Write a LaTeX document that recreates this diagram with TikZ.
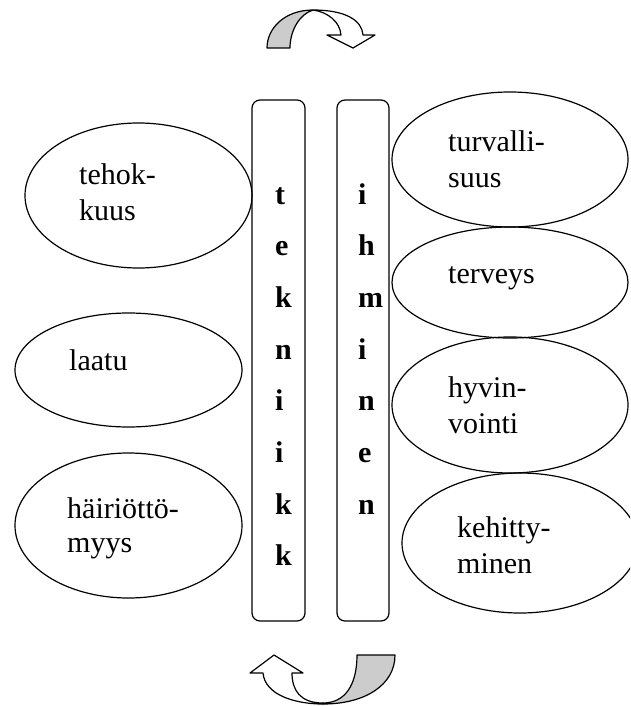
\documentclass[tikz,border=0pt]{standalone}
\usepackage{fontspec}
\setmainfont{Liberation Serif}
\usetikzlibrary{shapes.geometric}
\begin{document}
\begin{tikzpicture}[x=1pt,y=-1pt,
  oval/.style={draw,ellipse,line width=1.2pt,inner sep=0pt},
  lbl/.style={anchor=base west,inner sep=0pt,font=\fontsize{30}{36}\selectfont},
  bar/.style={draw,rounded corners=8pt,line width=1.2pt,inner sep=0pt},
  letter/.style={anchor=base west,inner sep=0pt,font=\fontsize{30}{36}\selectfont\bfseries},
  arr/.style={draw,line width=1.2pt,line join=round}]
\useasboundingbox (0,0) rectangle (630,706);
\clip (0,0) rectangle (630,706);

% vertical bars
\node[bar,minimum width=53pt,minimum height=521pt] (b1) at (278.5,360.5) {};
\node[bar,minimum width=52pt,minimum height=521pt] (b2) at (363,360.5) {};

% left ellipses
\node[oval,minimum width=227pt,minimum height=145pt] (e1) at (138.5,195.5) {};
\node[oval,minimum width=227pt,minimum height=114pt] (e2) at (128.5,370) {};
\node[oval,minimum width=227pt,minimum height=145pt] (e3) at (128.5,525.5) {};
% right ellipses
\node[oval,minimum width=236pt,minimum height=135pt] (e4) at (510,159.5) {};
\node[oval,minimum width=236pt,minimum height=111pt] (e5) at (510,282.5) {};
\node[oval,minimum width=236pt,minimum height=136pt] (e6) at (510,405) {};
\node[oval,minimum width=236pt,minimum height=140pt] (e7) at (520,543) {};

% ellipse labels
\node[lbl] (l1a) at (79,184) {tehok-};
\node[lbl] (l1b) at (79,220) {kuus};
\node[lbl] (l2) at (69,370) {laatu};
\node[lbl] (l3a) at (67,518) {häiriöttö-};
\node[lbl] (l3b) at (67,552) {myys};
\node[lbl] (l4a) at (448,151) {turvalli-};
\node[lbl] (l4b) at (448,187) {suus};
\node[lbl] (l5) at (448,283) {terveys};
\node[lbl] (l6a) at (448,397) {hyvin-};
\node[lbl] (l6b) at (448,433) {vointi};
\node[lbl] (l7a) at (457,537) {kehitty-};
\node[lbl] (l7b) at (457,573) {minen};

% vertical words
\foreach \c [count=\i] in {t,e,k,n,i,i,k,k}
  \node[letter] (t\i) at (275,{204+51.7*(\i-1)}) {\c};
\foreach \c [count=\i] in {i,h,m,i,n,e,n}
  \node[letter] (h\i) at (358,{204+51.7*(\i-1)}) {\c};

% top curved arrow
\draw[arr,fill=gray!40] (313,10) .. controls (285,10) and (267,28) .. (267,48)
  -- (290,48) .. controls (290,30) and (300,14) .. (313,10) -- cycle;
\draw[arr,fill=white] (313,10) .. controls (345,10) and (362,20) .. (363,35)
  -- (375,35) -- (353,48) -- (327,35) -- (341,35)
  .. controls (340,22) and (328,12) .. (313,10) -- cycle;

% bottom curved arrow
\draw[arr,fill=gray!40] (323,703) .. controls (345,703) and (357,685) .. (357,655)
  -- (395,655) .. controls (395,685) and (365,704) .. (323,704) -- cycle;
\draw[arr,fill=white] (323,703) .. controls (300,703) and (292,690) .. (292,673)
  -- (303,673) -- (274,655) -- (250,673) -- (263,673)
  .. controls (265,695) and (295,704) .. (323,704) -- cycle;
\end{tikzpicture}
\end{document}
